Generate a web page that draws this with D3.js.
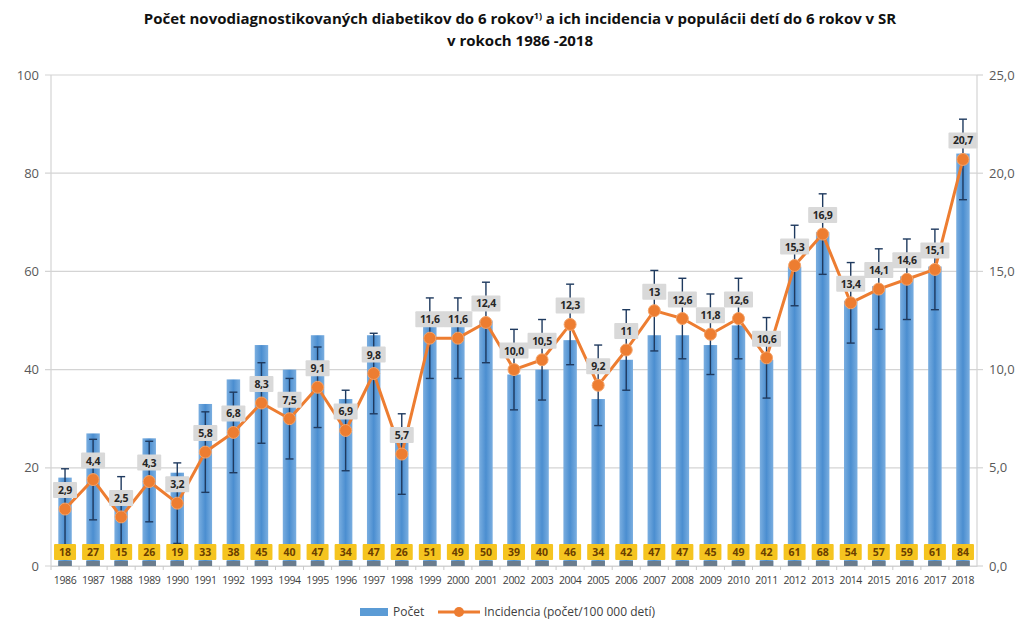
<!DOCTYPE html>
<html><head><meta charset="utf-8">
<script src="https://cdn.jsdelivr.net/npm/d3@7"></script>
<style>
body{margin:0;background:#fff;}
svg{display:block;font-family:"Open Sans",Arial,sans-serif;}
</style></head>
<body><svg id="c" width="1019" height="620"></svg>
<script>
const years = [1986,1987,1988,1989,1990,1991,1992,1993,1994,1995,1996,1997,1998,1999,2000,2001,2002,2003,2004,2005,2006,2007,2008,2009,2010,2011,2012,2013,2014,2015,2016,2017,2018];
const counts = [18,27,15,26,19,33,38,45,40,47,34,47,26,51,49,50,39,40,46,34,42,47,47,45,49,42,61,68,54,57,59,61,84];
const incidence = [2.9,4.4,2.5,4.3,3.2,5.8,6.8,8.3,7.5,9.1,6.9,9.8,5.7,11.6,11.6,12.4,10.0,10.5,12.3,9.2,11,13,12.6,11.8,12.6,10.6,15.3,16.9,13.4,14.1,14.6,15.1,20.7];
const incidenceLabels = ["2,9","4,4","2,5","4,3","3,2","5,8","6,8","8,3","7,5","9,1","6,9","9,8","5,7","11,6","11,6","12,4","10,0","10,5","12,3","9,2","11","13","12,6","11,8","12,6","10,6","15,3","16,9","13,4","14,1","14,6","15,1","20,7"];
const incidenceErr = [2.05,2.05,2.05,2.05,2.05,2.05,2.05,2.05,2.05,2.05,2.05,2.05,2.05,2.05,2.05,2.05,2.05,2.05,2.05,2.05,2.05,2.05,2.05,2.05,2.05,2.05,2.05,2.05,2.05,2.05,2.05,2.05,2.05];
const leftTicks = [0,20,40,60,80,100];
const rightTicks = [0,5,10,15,20,25];
const titleLines = ["Počet novodiagnostikovaných diabetikov do 6 rokov", "v rokoch 1986 -2018"];

const svg = d3.select("#c");
const L = 51, R = 977, T = 75, B = 566;
const x = d3.scaleBand().domain(years).range([L, R]).paddingInner(0.52).paddingOuter(0.26);
const yL = d3.scaleLinear().domain([0,100]).range([B, T]);
const yR = d3.scaleLinear().domain([0,25]).range([B, T]);
const cx = d => x(d) + x.bandwidth()/2;

const defs = svg.append("defs");
const g = defs.append("linearGradient").attr("id","barg").attr("x1","0").attr("x2","1").attr("y1","0").attr("y2","0");
g.append("stop").attr("offset","0%").attr("stop-color","#7aaee0");
g.append("stop").attr("offset","50%").attr("stop-color","#4b8ed0");
g.append("stop").attr("offset","100%").attr("stop-color","#7aaee0");

// title
const title = svg.append("text").attr("x",520).attr("y",24).attr("text-anchor","middle")
  .attr("font-weight","bold").attr("font-size",15).attr("fill","#111");
title.append("tspan").text(titleLines[0]);
title.append("tspan").attr("font-size",9).attr("dy",-5).text("1)");
title.append("tspan").attr("dy",5).text(" a ich incidencia v populácii detí do 6 rokov v SR");
svg.append("text").attr("x",520).attr("y",46).attr("text-anchor","middle")
  .attr("font-weight","bold").attr("font-size",15).attr("fill","#111").text(titleLines[1]);

// gridlines
svg.append("g").selectAll("line").data(leftTicks).join("line")
  .attr("x1",L-6).attr("x2",R).attr("y1",d=>yL(d)).attr("y2",d=>yL(d))
  .attr("stroke","#d4d4d4").attr("stroke-width",1.2);
svg.append("line").attr("x1",L).attr("x2",L).attr("y1",T).attr("y2",B).attr("stroke","#d4d4d4").attr("stroke-width",1.2);
svg.append("line").attr("x1",R).attr("x2",R).attr("y1",T).attr("y2",B).attr("stroke","#d4d4d4").attr("stroke-width",1.2);
svg.append("g").selectAll("line").data(rightTicks).join("line")
  .attr("x1",R).attr("x2",R+6).attr("y1",d=>yR(d)).attr("y2",d=>yR(d)).attr("stroke","#d4d4d4").attr("stroke-width",1.2);

// left axis
const axL = d3.axisLeft(yL).tickValues(leftTicks).tickSize(0).tickPadding(12);
svg.append("g").attr("transform",`translate(${L},0)`).call(axL)
  .call(s=>s.select(".domain").remove())
  .selectAll("text").attr("font-size",13).attr("fill","#595959").attr("font-family","Open Sans, sans-serif");
// right axis
const axR = d3.axisRight(yR).tickValues(rightTicks).tickSize(0).tickPadding(12).tickFormat(d=>d3.format(".1f")(d).replace(".",","));
svg.append("g").attr("transform",`translate(${R},0)`).call(axR)
  .call(s=>s.select(".domain").remove())
  .selectAll("text").attr("font-size",13).attr("fill","#595959").attr("font-family","Open Sans, sans-serif");

// x axis
const axX = d3.axisBottom(x).tickSize(0).tickPadding(11);
svg.append("g").attr("transform",`translate(0,${B})`).call(axX)
  .call(s=>s.select(".domain").attr("stroke","#d4d4d4"))
  .selectAll("text").attr("font-size",10.5).attr("fill","#404040").attr("font-family","Open Sans, sans-serif").attr("letter-spacing","-0.4");
svg.append("g").selectAll("line").data(years).join("line")
  .attr("x1",d=>x(d)-x.step()*x.paddingInner()/2).attr("x2",d=>x(d)-x.step()*x.paddingInner()/2)
  .attr("y1",B).attr("y2",B+4).attr("stroke","#c8c8c8");

// bars
svg.append("g").selectAll("rect").data(years).join("rect")
  .attr("x",d=>x(d)).attr("width",x.bandwidth())
  .attr("y",(d,i)=>yL(counts[i])).attr("height",(d,i)=>yL(0)-yL(counts[i]))
  .attr("fill","url(#barg)");
svg.append("g").selectAll("rect").data(years).join("rect")
  .attr("x",d=>x(d)).attr("width",x.bandwidth())
  .attr("y",B-5).attr("height",5).attr("fill","#6b7d8e");

// error bars
const eb = svg.append("g").attr("stroke","#1f3a5f").attr("stroke-width",1.4);
years.forEach((yr,i)=>{
  const c = cx(yr), top = yR(incidence[i]+incidenceErr[i]), bot = yR(incidence[i]-incidenceErr[i]);
  eb.append("line").attr("x1",c).attr("x2",c).attr("y1",top).attr("y2",bot);
  eb.append("line").attr("x1",c-4).attr("x2",c+4).attr("y1",top).attr("y2",top);
  eb.append("line").attr("x1",c-4).attr("x2",c+4).attr("y1",bot).attr("y2",bot);
});

// line
const line = d3.line().x(d=>cx(d[0])).y(d=>yR(d[1]));
svg.append("path").datum(years.map((y,i)=>[y,incidence[i]])).attr("d",line)
  .attr("fill","none").attr("stroke","#ed7d31").attr("stroke-width",3).attr("stroke-linejoin","round");
svg.append("g").selectAll("circle").data(years).join("circle")
  .attr("cx",cx).attr("cy",(d,i)=>yR(incidence[i])).attr("r",6).attr("fill","#ed7d31").attr("stroke","#f4a46a").attr("stroke-width",1);

// incidence labels
const il = svg.append("g");
years.forEach((yr,i)=>{
  const c = cx(yr), yy = yR(incidence[i]) - 19;
  const w = incidenceLabels[i].length > 3 ? 29 : 24;
  il.append("rect").attr("x",c-w/2).attr("y",yy-8).attr("width",w).attr("height",16).attr("fill","#d9d9d9").attr("rx",1);
  il.append("text").attr("x",c).attr("y",yy+4).attr("text-anchor","middle").attr("font-size",10.5).attr("font-weight","bold")
    .attr("fill","#262626").attr("letter-spacing","-0.3").text(incidenceLabels[i]);
});

// count labels
const cl = svg.append("g");
years.forEach((yr,i)=>{
  const c = cx(yr), yy = 552;
  cl.append("rect").attr("x",c-11).attr("y",yy-8).attr("width",22).attr("height",16).attr("fill","#f5c41f").attr("rx",1);
  cl.append("text").attr("x",c).attr("y",yy+4).attr("text-anchor","middle").attr("font-size",10.5).attr("font-weight","bold")
    .attr("fill","#6b3f00").text(counts[i]);
});

// legend
const lg = svg.append("g");
lg.append("rect").attr("x",360).attr("y",608).attr("width",28).attr("height",8).attr("fill","#5b9bd5");
lg.append("text").attr("x",393).attr("y",616).attr("font-size",12).attr("fill","#404040").text("Počet");
lg.append("line").attr("x1",438).attr("x2",480).attr("y1",612).attr("y2",612).attr("stroke","#ed7d31").attr("stroke-width",3);
lg.append("circle").attr("cx",459).attr("cy",612).attr("r",5).attr("fill","#ed7d31");
lg.append("text").attr("x",484).attr("y",616).attr("font-size",12).attr("fill","#404040").text("Incidencia (počet/100 000 detí)");
</script></body></html>
